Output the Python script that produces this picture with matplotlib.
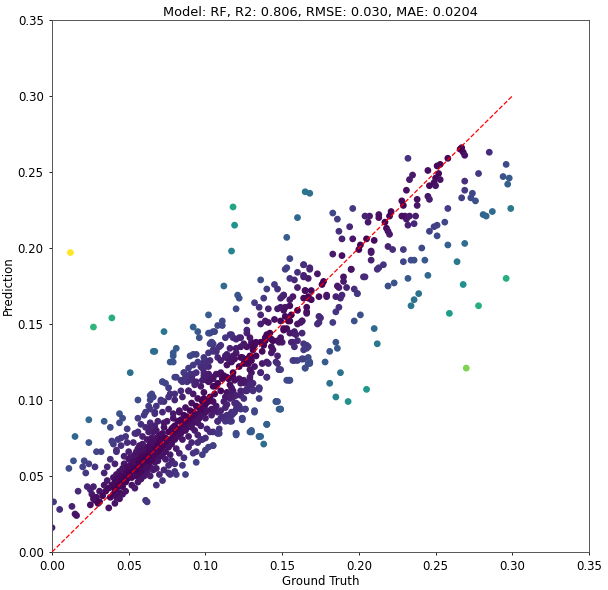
import matplotlib
matplotlib.use("Agg")
import matplotlib.pyplot as plt
import numpy as np

title = "Model: RF, R2: 0.806, RMSE: 0.030, MAE: 0.0204"
x_label = "Ground Truth"
y_label = "Prediction"
axis_max = 0.35
diag_max = 0.30
ticks = [0.00, 0.05, 0.10, 0.15, 0.20, 0.25, 0.30, 0.35]

# (ground truth, prediction) pairs, grouped by area
low_edge = [
    (0.000, 0.016), (0.001, 0.033), (0.005, 0.028), (0.013, 0.030), (0.015, 0.025),
    (0.016, 0.024), (0.017, 0.040), (0.011, 0.055), (0.014, 0.060), (0.015, 0.076),
    (0.024, 0.087), (0.024, 0.072), (0.021, 0.060), (0.020, 0.056), (0.024, 0.058),
    (0.022, 0.052), (0.025, 0.041), (0.026, 0.038), (0.027, 0.043), (0.029, 0.036),
    (0.028, 0.034), (0.025, 0.031), (0.029, 0.066), (0.028, 0.056), (0.023, 0.043),
    (0.027, 0.035), (0.030, 0.032), (0.031, 0.040), (0.031, 0.033),
]

over_predicted = [
    (0.012, 0.197), (0.027, 0.148), (0.039, 0.154), (0.051, 0.118), (0.056, 0.100),
    (0.066, 0.132), (0.067, 0.132), (0.073, 0.145), (0.112, 0.175), (0.117, 0.198),
    (0.119, 0.215), (0.118, 0.227), (0.165, 0.237), (0.168, 0.236), (0.160, 0.220),
    (0.153, 0.207),
]

under_predicted = [
    (0.270, 0.121), (0.278, 0.162), (0.296, 0.180), (0.259, 0.157), (0.268, 0.176),
    (0.264, 0.191), (0.269, 0.203), (0.205, 0.107), (0.193, 0.099), (0.185, 0.102),
    (0.212, 0.137), (0.138, 0.071), (0.299, 0.226), (0.281, 0.222), (0.283, 0.221),
    (0.287, 0.224),
]

band_03_05 = [
    (0.032, 0.066), (0.034, 0.086), (0.038, 0.082), (0.044, 0.091), (0.044, 0.085),
    (0.037, 0.029), (0.034, 0.052), (0.038, 0.061), (0.036, 0.056), (0.033, 0.037),
    (0.034, 0.044), (0.035, 0.040), (0.036, 0.047), (0.037, 0.042), (0.038, 0.036),
    (0.039, 0.044), (0.040, 0.049), (0.040, 0.038), (0.041, 0.046), (0.041, 0.041),
    (0.042, 0.051), (0.042, 0.036), (0.043, 0.048), (0.043, 0.043), (0.044, 0.053),
    (0.044, 0.039), (0.045, 0.046), (0.045, 0.050), (0.046, 0.055), (0.046, 0.043),
    (0.047, 0.058), (0.047, 0.049), (0.048, 0.052), (0.048, 0.046), (0.049, 0.056),
    (0.049, 0.048), (0.050, 0.054), (0.050, 0.051), (0.040, 0.071), (0.043, 0.074),
    (0.045, 0.070), (0.042, 0.066), (0.047, 0.063), (0.048, 0.076), (0.049, 0.081),
    (0.046, 0.088), (0.050, 0.061), (0.039, 0.073), (0.048, 0.040), (0.046, 0.038),
    (0.044, 0.035), (0.041, 0.032), (0.041, 0.058), (0.045, 0.075), (0.042, 0.067),
    (0.049, 0.072), (0.050, 0.066),
]

band_05_07 = [
    (0.051, 0.057), (0.051, 0.052), (0.052, 0.060), (0.052, 0.049), (0.053, 0.056),
    (0.053, 0.063), (0.054, 0.053), (0.054, 0.058), (0.055, 0.061), (0.055, 0.050),
    (0.055, 0.066), (0.056, 0.055), (0.056, 0.059), (0.057, 0.062), (0.057, 0.052),
    (0.058, 0.057), (0.058, 0.065), (0.059, 0.060), (0.059, 0.054), (0.060, 0.063),
    (0.060, 0.058), (0.061, 0.066), (0.061, 0.055), (0.062, 0.061), (0.062, 0.069),
    (0.063, 0.058), (0.063, 0.064), (0.064, 0.071), (0.064, 0.060), (0.065, 0.067),
    (0.065, 0.055), (0.066, 0.063), (0.066, 0.073), (0.067, 0.059), (0.067, 0.068),
    (0.068, 0.065), (0.068, 0.075), (0.069, 0.062), (0.069, 0.070), (0.070, 0.066),
    (0.070, 0.077), (0.052, 0.044), (0.054, 0.042), (0.056, 0.046), (0.058, 0.048),
    (0.060, 0.050), (0.062, 0.052), (0.064, 0.050), (0.066, 0.054), (0.068, 0.055),
    (0.061, 0.034), (0.070, 0.051), (0.072, 0.047), (0.076, 0.052), (0.080, 0.053),
    (0.068, 0.044), (0.053, 0.072), (0.055, 0.078), (0.057, 0.070), (0.059, 0.076),
    (0.061, 0.082), (0.062, 0.074), (0.064, 0.085), (0.066, 0.079), (0.067, 0.092),
    (0.069, 0.086), (0.060, 0.090), (0.063, 0.096), (0.058, 0.084), (0.065, 0.104),
    (0.071, 0.099), (0.056, 0.068), (0.059, 0.071), (0.063, 0.079), (0.065, 0.075),
    (0.067, 0.083), (0.051, 0.062), (0.053, 0.059), (0.054, 0.064), (0.056, 0.051),
    (0.057, 0.066), (0.058, 0.053), (0.059, 0.067), (0.060, 0.061), (0.061, 0.059),
    (0.062, 0.056), (0.063, 0.062), (0.064, 0.066), (0.065, 0.061), (0.066, 0.070),
    (0.067, 0.064), (0.068, 0.070), (0.069, 0.066), (0.070, 0.072), (0.055, 0.054),
    (0.057, 0.058), (0.059, 0.063), (0.061, 0.062), (0.063, 0.068), (0.065, 0.072),
    (0.056, 0.079), (0.054, 0.078), (0.056, 0.088), (0.061, 0.092), (0.064, 0.103),
]

band_07_10 = [
    (0.071, 0.068), (0.071, 0.074), (0.072, 0.063), (0.072, 0.078), (0.073, 0.070),
    (0.073, 0.082), (0.074, 0.066), (0.074, 0.075), (0.075, 0.072), (0.075, 0.086),
    (0.076, 0.069), (0.076, 0.079), (0.077, 0.074), (0.077, 0.064), (0.078, 0.081),
    (0.078, 0.071), (0.079, 0.077), (0.079, 0.088), (0.080, 0.074), (0.080, 0.083),
    (0.081, 0.079), (0.081, 0.068), (0.082, 0.086), (0.082, 0.076), (0.083, 0.081),
    (0.083, 0.092), (0.084, 0.078), (0.084, 0.087), (0.085, 0.083), (0.085, 0.074),
    (0.086, 0.090), (0.086, 0.080), (0.087, 0.085), (0.087, 0.095), (0.088, 0.082),
    (0.088, 0.089), (0.089, 0.086), (0.089, 0.076), (0.090, 0.093), (0.090, 0.083),
    (0.091, 0.088), (0.091, 0.098), (0.092, 0.085), (0.092, 0.092), (0.093, 0.089),
    (0.093, 0.080), (0.094, 0.096), (0.094, 0.086), (0.095, 0.091), (0.095, 0.101),
    (0.096, 0.088), (0.096, 0.095), (0.097, 0.092), (0.097, 0.083), (0.098, 0.099),
    (0.098, 0.090), (0.099, 0.095), (0.099, 0.105), (0.100, 0.092), (0.100, 0.099),
    (0.074, 0.061), (0.078, 0.060), (0.083, 0.065), (0.086, 0.062), (0.089, 0.069),
    (0.091, 0.072), (0.085, 0.057), (0.080, 0.058), (0.076, 0.057), (0.095, 0.077),
    (0.097, 0.074), (0.102, 0.069), (0.098, 0.064),
    (0.105, 0.079), (0.100, 0.067), (0.108, 0.078), (0.105, 0.070), (0.094, 0.059),
    (0.092, 0.065), (0.087, 0.051), (0.081, 0.051), (0.077, 0.051), (0.073, 0.054),
    (0.069, 0.060), (0.062, 0.033), (0.094, 0.066), (0.098, 0.074), (0.095, 0.072),
    (0.120, 0.078), (0.130, 0.080), (0.135, 0.076), (0.140, 0.084), (0.146, 0.099),
    (0.149, 0.094), (0.132, 0.092), (0.126, 0.094), (0.124, 0.088), (0.116, 0.086),
    (0.114, 0.088), (0.118, 0.091),
]

upper_mid = [
    (0.084, 0.113), (0.088, 0.112), (0.091, 0.115), (0.094, 0.118), (0.097, 0.122),
    (0.100, 0.126), (0.102, 0.131), (0.105, 0.133), (0.109, 0.135), (0.113, 0.128),
    (0.114, 0.123), (0.117, 0.125), (0.120, 0.131), (0.123, 0.135), (0.110, 0.118),
    (0.105, 0.115), (0.101, 0.113), (0.097, 0.109), (0.092, 0.104), (0.089, 0.106),
    (0.085, 0.102), (0.080, 0.100), (0.077, 0.104), (0.073, 0.099), (0.068, 0.096),
    (0.064, 0.100), (0.081, 0.115), (0.076, 0.108), (0.072, 0.112),
    (0.102, 0.156), (0.121, 0.169), (0.122, 0.167), (0.120, 0.160), (0.092, 0.148),
    (0.095, 0.145), (0.096, 0.141), (0.102, 0.144), (0.108, 0.149), (0.111, 0.152),
    (0.111, 0.149), (0.103, 0.137), (0.105, 0.137), (0.106, 0.133), (0.107, 0.132),
    (0.081, 0.134), (0.079, 0.131), (0.079, 0.129), (0.077, 0.125), (0.079, 0.125),
    (0.072, 0.112), (0.074, 0.111), (0.086, 0.118), (0.090, 0.117), (0.092, 0.117),
    (0.091, 0.114), (0.080, 0.115), (0.085, 0.112), (0.090, 0.129), (0.092, 0.130),
    (0.094, 0.130), (0.099, 0.125), (0.100, 0.122), (0.098, 0.121), (0.099, 0.116),
    (0.102, 0.117), (0.103, 0.113), (0.105, 0.109), (0.108, 0.111), (0.093, 0.110),
    (0.089, 0.106), (0.084, 0.106), (0.080, 0.104), (0.076, 0.102), (0.071, 0.100),
    (0.066, 0.102), (0.064, 0.094), (0.067, 0.091), (0.072, 0.092), (0.076, 0.094),
    (0.079, 0.091), (0.083, 0.093), (0.064, 0.082), (0.068, 0.080), (0.073, 0.085),
    (0.079, 0.082), (0.084, 0.086), (0.087, 0.080), (0.091, 0.082), (0.095, 0.085),
    (0.100, 0.088), (0.104, 0.090), (0.108, 0.092), (0.113, 0.095), (0.117, 0.092),
    (0.121, 0.097),
]

diag_10_15 = [
    (0.136, 0.179), (0.140, 0.173), (0.145, 0.176), (0.147, 0.173), (0.158, 0.179),
    (0.160, 0.174), (0.165, 0.172), (0.167, 0.167), (0.151, 0.169), (0.149, 0.167),
    (0.138, 0.167), (0.132, 0.164), (0.135, 0.161), (0.141, 0.160), (0.147, 0.160),
    (0.151, 0.159), (0.155, 0.162), (0.160, 0.159), (0.166, 0.161), (0.136, 0.156),
    (0.139, 0.152), (0.136, 0.150), (0.141, 0.151), (0.145, 0.153), (0.149, 0.152),
    (0.152, 0.155), (0.155, 0.152), (0.160, 0.150), (0.163, 0.152), (0.166, 0.157),
    (0.127, 0.152), (0.127, 0.146), (0.122, 0.141), (0.118, 0.141), (0.116, 0.143),
    (0.113, 0.141), (0.105, 0.145), (0.104, 0.138), (0.110, 0.136), (0.106, 0.133),
    (0.116, 0.134), (0.120, 0.134), (0.127, 0.135), (0.130, 0.138), (0.132, 0.137),
    (0.136, 0.138), (0.139, 0.139), (0.140, 0.143), (0.143, 0.140), (0.147, 0.139),
    (0.150, 0.138), (0.151, 0.146), (0.153, 0.147), (0.155, 0.144), (0.158, 0.145),
    (0.163, 0.144), (0.164, 0.137), (0.166, 0.134), (0.157, 0.138), (0.160, 0.126),
    (0.164, 0.127), (0.168, 0.124), (0.165, 0.121), (0.153, 0.113), (0.146, 0.125),
    (0.148, 0.120), (0.144, 0.133), (0.137, 0.132), (0.133, 0.129), (0.130, 0.126),
    (0.127, 0.124), (0.130, 0.118), (0.124, 0.128), (0.119, 0.127), (0.117, 0.126),
    (0.114, 0.130), (0.108, 0.128), (0.103, 0.126), (0.102, 0.122), (0.099, 0.118),
    (0.100, 0.123), (0.095, 0.125), (0.092, 0.123), (0.089, 0.121), (0.086, 0.118),
    (0.087, 0.115), (0.091, 0.113), (0.094, 0.112), (0.102, 0.115), (0.107, 0.117),
    (0.111, 0.114), (0.114, 0.115), (0.118, 0.115), (0.123, 0.113), (0.126, 0.111),
    (0.129, 0.113), (0.131, 0.106), (0.135, 0.108), (0.127, 0.106), (0.123, 0.103),
    (0.118, 0.106), (0.116, 0.101), (0.119, 0.098), (0.123, 0.094), (0.119, 0.092),
    (0.115, 0.090), (0.114, 0.087), (0.111, 0.089), (0.108, 0.086), (0.117, 0.086),
    (0.120, 0.078), (0.129, 0.079), (0.136, 0.076), (0.140, 0.084), (0.146, 0.099),
    (0.148, 0.094), (0.155, 0.113),
]

dense_10_14 = [
    (0.103, 0.144), (0.106, 0.145), (0.117, 0.143), (0.120, 0.140), (0.123, 0.141),
    (0.127, 0.144), (0.129, 0.141), (0.125, 0.137), (0.130, 0.136), (0.132, 0.136),
    (0.133, 0.138), (0.137, 0.138), (0.139, 0.141), (0.142, 0.144), (0.144, 0.139),
    (0.148, 0.138), (0.149, 0.141), (0.143, 0.135), (0.143, 0.131), (0.147, 0.129),
    (0.138, 0.136), (0.131, 0.133), (0.129, 0.129), (0.127, 0.127), (0.123, 0.128),
    (0.118, 0.129), (0.115, 0.127), (0.113, 0.129), (0.110, 0.126), (0.105, 0.132),
    (0.104, 0.138), (0.107, 0.132), (0.099, 0.128), (0.099, 0.123), (0.100, 0.124),
    (0.100, 0.116), (0.102, 0.117), (0.098, 0.113), (0.102, 0.112), (0.105, 0.114),
    (0.109, 0.117), (0.112, 0.116), (0.115, 0.114), (0.118, 0.118), (0.122, 0.122),
    (0.125, 0.124), (0.128, 0.124), (0.129, 0.126), (0.129, 0.120), (0.132, 0.122),
    (0.137, 0.124), (0.140, 0.125), (0.141, 0.124), (0.136, 0.118), (0.140, 0.115),
    (0.129, 0.115), (0.131, 0.111), (0.135, 0.107), (0.125, 0.113), (0.122, 0.114),
    (0.119, 0.113), (0.123, 0.111), (0.116, 0.110), (0.114, 0.105), (0.117, 0.108),
    (0.118, 0.102), (0.113, 0.102), (0.110, 0.106), (0.107, 0.109), (0.106, 0.104),
    (0.103, 0.102), (0.102, 0.099), (0.099, 0.101), (0.100, 0.097), (0.098, 0.094),
    (0.105, 0.099), (0.107, 0.096), (0.104, 0.094), (0.106, 0.093), (0.101, 0.093),
    (0.110, 0.093), (0.112, 0.099), (0.114, 0.097), (0.120, 0.098),
]

below_right = [
    (0.167, 0.135), (0.163, 0.127), (0.167, 0.124), (0.158, 0.126), (0.155, 0.113),
    (0.147, 0.099), (0.149, 0.094), (0.140, 0.084), (0.135, 0.076), (0.130, 0.079),
    (0.120, 0.077), (0.132, 0.093), (0.135, 0.101), (0.135, 0.108), (0.131, 0.107),
    (0.140, 0.115), (0.136, 0.118), (0.147, 0.124), (0.148, 0.120), (0.124, 0.088),
    (0.124, 0.087), (0.126, 0.094), (0.125, 0.101), (0.127, 0.107), (0.129, 0.110),
    (0.120, 0.094), (0.122, 0.096), (0.120, 0.097), (0.117, 0.090), (0.116, 0.088),
    (0.114, 0.090), (0.110, 0.088), (0.113, 0.086), (0.108, 0.086), (0.109, 0.081),
    (0.109, 0.078), (0.103, 0.079), (0.100, 0.075), (0.105, 0.070), (0.101, 0.081),
    (0.117, 0.104), (0.120, 0.103), (0.123, 0.106), (0.126, 0.106),
]

diag_15_20 = [
    (0.150, 0.168), (0.151, 0.169), (0.155, 0.166), (0.157, 0.168), (0.149, 0.161),
    (0.152, 0.161), (0.156, 0.156), (0.154, 0.152), (0.151, 0.147), (0.157, 0.144),
    (0.159, 0.143), (0.156, 0.138), (0.160, 0.139), (0.158, 0.135), (0.166, 0.136),
    (0.164, 0.133), (0.167, 0.128), (0.168, 0.125), (0.157, 0.126), (0.163, 0.127),
    (0.165, 0.121), (0.149, 0.120), (0.160, 0.184), (0.164, 0.182), (0.167, 0.180),
    (0.164, 0.189), (0.168, 0.187), (0.164, 0.181), (0.173, 0.183), (0.165, 0.172),
    (0.169, 0.172), (0.167, 0.168), (0.164, 0.167), (0.169, 0.166), (0.174, 0.168),
    (0.176, 0.176), (0.177, 0.178), (0.179, 0.169), (0.179, 0.168), (0.186, 0.175),
    (0.187, 0.174), (0.190, 0.181), (0.190, 0.178), (0.192, 0.174), (0.197, 0.173),
    (0.189, 0.169), (0.188, 0.167), (0.185, 0.168), (0.199, 0.170), (0.187, 0.161),
    (0.183, 0.151), (0.185, 0.158), (0.174, 0.155), (0.175, 0.154), (0.174, 0.151),
    (0.173, 0.150), (0.166, 0.158), (0.163, 0.152), (0.162, 0.151), (0.155, 0.180),
    (0.152, 0.186), (0.153, 0.187), (0.155, 0.193), (0.164, 0.189), (0.168, 0.186),
    (0.183, 0.196), (0.189, 0.195), (0.195, 0.186), (0.204, 0.181),
]

diag_20_30 = [
    (0.232, 0.259), (0.266, 0.265), (0.268, 0.263), (0.269, 0.261), (0.267, 0.266),
    (0.285, 0.263), (0.296, 0.255), (0.294, 0.247), (0.298, 0.246), (0.297, 0.242),
    (0.278, 0.249), (0.269, 0.244), (0.269, 0.238), (0.274, 0.236), (0.273, 0.233),
    (0.276, 0.231), (0.267, 0.233), (0.258, 0.226), (0.256, 0.217), (0.251, 0.215),
    (0.249, 0.214), (0.246, 0.211), (0.251, 0.208), (0.258, 0.202), (0.241, 0.200),
    (0.239, 0.170), (0.236, 0.166), (0.234, 0.162), (0.243, 0.192), (0.236, 0.192),
    (0.234, 0.192), (0.229, 0.191), (0.232, 0.180), (0.229, 0.199), (0.223, 0.177),
    (0.219, 0.175), (0.210, 0.147), (0.188, 0.118), (0.181, 0.111), (0.178, 0.125),
    (0.185, 0.138), (0.186, 0.134), (0.181, 0.132), (0.201, 0.156), (0.197, 0.152),
    (0.154, 0.113), (0.245, 0.182),
    (0.258, 0.259), (0.253, 0.255), (0.251, 0.254), (0.252, 0.249), (0.245, 0.251),
    (0.250, 0.246), (0.253, 0.245), (0.249, 0.243), (0.250, 0.241), (0.246, 0.241),
    (0.245, 0.234), (0.246, 0.232), (0.235, 0.248), (0.233, 0.245), (0.231, 0.238),
    (0.228, 0.231), (0.229, 0.228), (0.238, 0.232), (0.238, 0.228), (0.230, 0.221),
    (0.233, 0.221), (0.237, 0.221), (0.231, 0.219), (0.228, 0.221), (0.232, 0.215),
    (0.236, 0.216), (0.221, 0.224), (0.220, 0.221), (0.217, 0.217), (0.218, 0.213),
    (0.219, 0.211), (0.220, 0.209), (0.213, 0.222), (0.213, 0.220), (0.207, 0.221),
    (0.204, 0.221), (0.206, 0.217), (0.219, 0.201), (0.222, 0.199), (0.210, 0.205),
    (0.205, 0.206), (0.201, 0.202), (0.200, 0.199), (0.196, 0.226), (0.183, 0.223),
    (0.186, 0.219), (0.194, 0.214), (0.187, 0.211), (0.189, 0.206), (0.196, 0.206),
    (0.208, 0.198), (0.208, 0.197), (0.208, 0.192), (0.212, 0.186), (0.213, 0.187),
    (0.216, 0.189), (0.195, 0.186), (0.203, 0.181), (0.199, 0.170),
]

groups = [low_edge, over_predicted, under_predicted, band_03_05, band_05_07,
          band_07_10, upper_mid, diag_10_15, dense_10_14, below_right,
          diag_15_20, diag_20_30]
pairs = np.array([p for g in groups for p in g])
ground_truth = pairs[:, 0]
prediction = pairs[:, 1]
abs_error = np.abs(ground_truth - prediction)

fig = plt.figure(figsize=(6.08, 5.90), dpi=100)
ax = fig.add_axes([52 / 608, 38 / 590, 537 / 608, 532 / 590])

ax.scatter(ground_truth, prediction, c=abs_error, cmap="viridis", s=15, zorder=2)
ax.plot([0, diag_max], [0, diag_max], "r--", lw=0.9, zorder=3)

ax.set_xlim(0, axis_max)
ax.set_ylim(0, axis_max)
ax.set_xticks(ticks)
ax.set_yticks(ticks)
ax.set_xticklabels([f"{t:.2f}" for t in ticks])
ax.set_yticklabels([f"{t:.2f}" for t in ticks])
ax.tick_params(labelsize=8.5, length=2.5, width=0.6)
for sp in ax.spines.values():
    sp.set_linewidth(0.7)
    sp.set_color("#555555")

ax.set_xlabel(x_label, fontsize=8.5, labelpad=1)
ax.set_ylabel(y_label, fontsize=8.5, labelpad=2)
ax.set_title(title, fontsize=9.3, pad=3)

fig.savefig("out.png", dpi=100)
